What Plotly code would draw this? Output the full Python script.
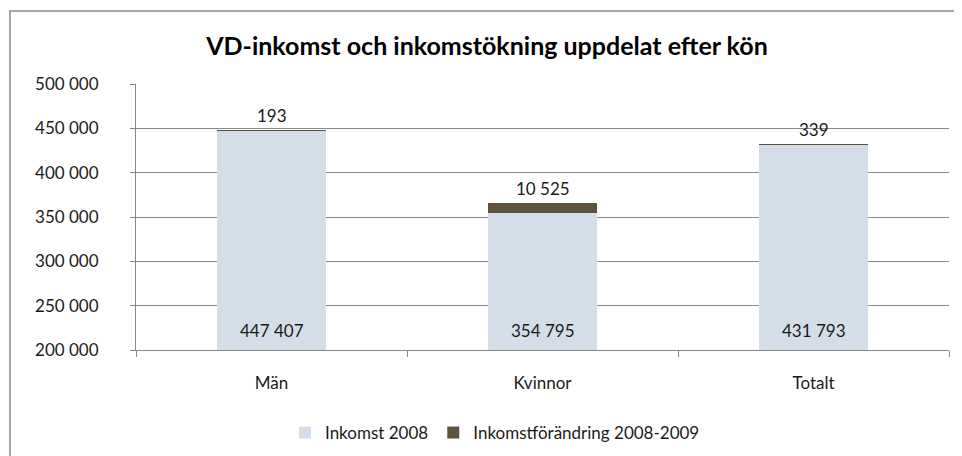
import plotly.graph_objects as go

categories = ["Män", "Kvinnor", "Totalt"]
inkomst_2008 = [447407, 354795, 431793]
forandring = [193, 10525, 339]
series_names = ["Inkomst 2008", "Inkomstförändring 2008-2009"]
y_ticks = [200000, 250000, 300000, 350000, 400000, 450000, 500000]

FONT = "Lato, Carlito, 'Noto Sans', sans-serif"
BASE_COLOR = "#D3DEE8"
INC_COLOR = "#5E523F"
GRID = "#888888"
TXT = "#1A1A1A"

fig = go.Figure()
fig.add_trace(go.Bar(x=categories, y=inkomst_2008, name=series_names[0],
                     marker=dict(color=BASE_COLOR, line=dict(width=0)), width=0.4))
fig.add_trace(go.Bar(x=categories, y=forandring, name=series_names[1],
                     marker=dict(color=INC_COLOR, line=dict(width=0)), width=0.4))

def fmt(v):
    return f"{v:,}".replace(",", " ")

for c, b, d in zip(categories, inkomst_2008, forandring):
    fig.add_annotation(x=c, y=y_ticks[0], text=fmt(b), showarrow=False,
                       yanchor="middle", yshift=20,
                       font=dict(family=FONT, size=17, color=TXT))
    fig.add_annotation(x=c, y=b + d, text=fmt(d), showarrow=False,
                       yanchor="middle", yshift=15,
                       font=dict(family=FONT, size=17, color=TXT))

# page body has an 8px margin: work in reference pixels and offset
OFF = 8
W, H = 962 - OFF, 456 - OFF
L, T = 136 - OFF, 84 - OFF
R = W - (949 - OFF)
B = H - (350 - OFF)
pw, ph = W - L - R, H - T - B
def px(x):
    return (x - OFF - L) / pw
def py(y):
    return (H - B - (y - OFF)) / ph

fig.add_shape(type="rect", xref="paper", yref="paper",
              x0=px(10), x1=px(985), y0=py(480), y1=py(11),
              line=dict(color="#A6A6A6", width=2), fillcolor="rgba(0,0,0,0)", layer="below")

fig.update_layout(
    width=W, height=H,
    margin=dict(l=L, r=R, t=T, b=B, autoexpand=False),
    barmode="stack",
    separators=", ",
    paper_bgcolor="white", plot_bgcolor="white",
    font=dict(family=FONT, size=17, color=TXT),
    title=dict(text="VD-inkomst och inkomstökning uppdelat efter kön",
               x=(487 - OFF) / W, xanchor="center", y=1 - (46 - OFF) / H, yanchor="middle",
               font=dict(family=FONT, size=25, color="#000000", weight="bold"),
               automargin=False),
    showlegend=True,
    legend=dict(orientation="h", x=px(495), xanchor="center", y=py(433), yanchor="middle",
                font=dict(family=FONT, size=17, color=TXT), traceorder="normal"),
    bargap=0.6,
)
fig.update_yaxes(range=[200000, 500000], tickvals=y_ticks, tickformat=",d",
                 showgrid=True, gridcolor=GRID, gridwidth=1,
                 showline=True, linecolor=GRID, linewidth=1,
                 ticks="outside", ticklen=5, tickcolor=GRID,
                 ticklabelstandoff=28, zeroline=False, automargin=False,
                 tickfont=dict(family=FONT, size=17, color=TXT))
fig.update_xaxes(showline=True, linecolor=GRID, linewidth=1,
                 ticks="outside", ticklen=6, tickcolor=GRID, tickson="boundaries",
                 ticklabelstandoff=18, showgrid=False, automargin=False,
                 tickfont=dict(family=FONT, size=17, color=TXT))

fig.write_html("out.html")
